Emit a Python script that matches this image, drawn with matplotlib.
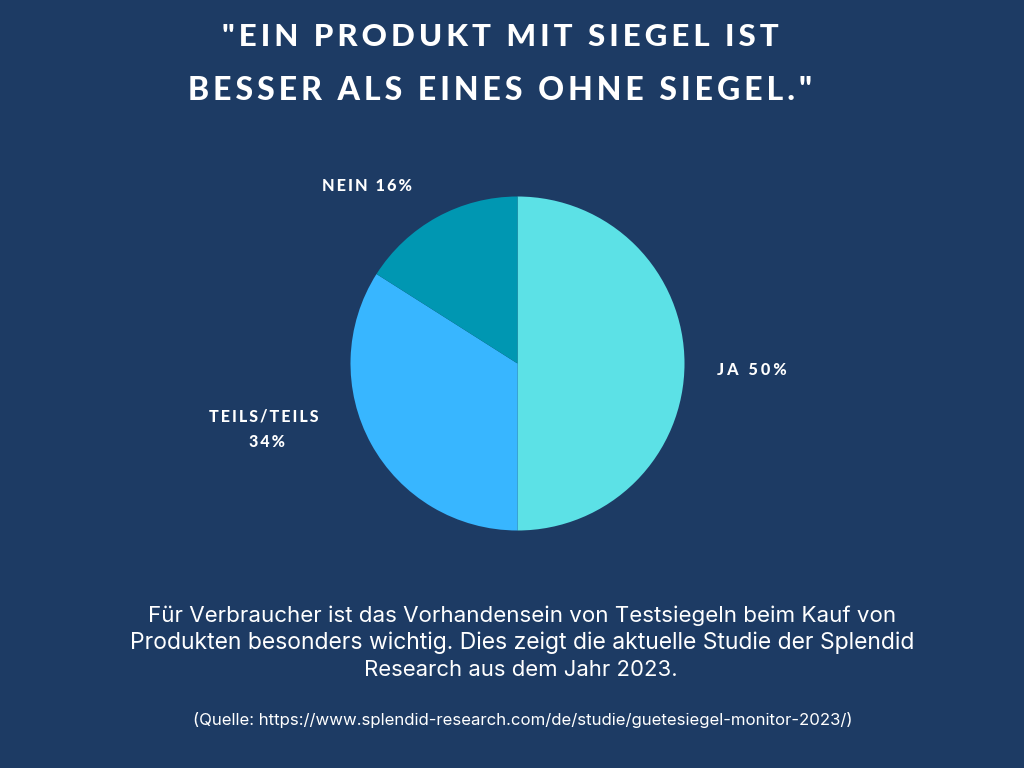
import matplotlib.pyplot as plt

labels = ["JA", "TEILS", "NEIN"]
shares = [50, 34, 16]
colors = ["#5ce1e6", "#38b6ff", "#0097b2"]
bg = "#1d3b64"

title_lines = ['"EIN PRODUKT MIT SIEGEL IST', 'BESSER ALS EINES OHNE SIEGEL."']
body_lines = [
    "Für Verbraucher ist das Vorhandensein von Testsiegeln beim Kauf von",
    "Produkten besonders wichtig. Dies zeigt die aktuelle Studie der Splendid",
    "Research aus dem Jahr 2023.",
]
source = "(Quelle: https://www.splendid-research.com/de/studie/guetesiegel-monitor-2023/)"


def spaced(s, n=1):
    # no letter-spacing in matplotlib, use hair spaces
    return ("\u200a" * n).join(s)


fig = plt.figure(figsize=(10.24, 7.68), dpi=100, facecolor=bg)

# pie centre at (517.5, 363.5), radius 167 px
ax = fig.add_axes([350.5 / 1024, 1 - 530.5 / 768, 334 / 1024, 334 / 768])
ax.pie(shares, colors=colors, startangle=90, counterclock=False, radius=1)
ax.set_xlim(-1, 1)
ax.set_ylim(-1, 1)


def put(x, y, s, **kw):
    fig.text(x / 1024, 1 - y / 768, s, color="white", ha="center", va="center", **kw)


put(500.5, 37, spaced(title_lines[0], 2), fontsize=22.5, fontweight="black", family="Lato")
put(500.5, 91, spaced(title_lines[1], 2), fontsize=23, fontweight="black", family="Lato")

put(367.5, 186, spaced("NEIN 16%", 2), fontsize=11.7, fontweight="black", family="Lato")
put(751.5, 370, spaced("JA 50%", 3), fontsize=11.7, fontweight="black", family="Lato")
put(264, 416, spaced("TEILS/TEILS", 2), fontsize=11.5, fontweight="black", family="Lato")
put(267, 442, spaced("34%", 2), fontsize=11.5, fontweight="black", family="Lato")

put(522.5, 616, body_lines[0], fontsize=16.1, family="Inter")
put(522.5, 643, body_lines[1], fontsize=16.5, family="Inter")
put(520.5, 670, body_lines[2], fontsize=15.9, family="Inter")
put(523, 720, source, fontsize=12.05, family="Inter")

fig.savefig("out.png", dpi=100, facecolor=bg)
